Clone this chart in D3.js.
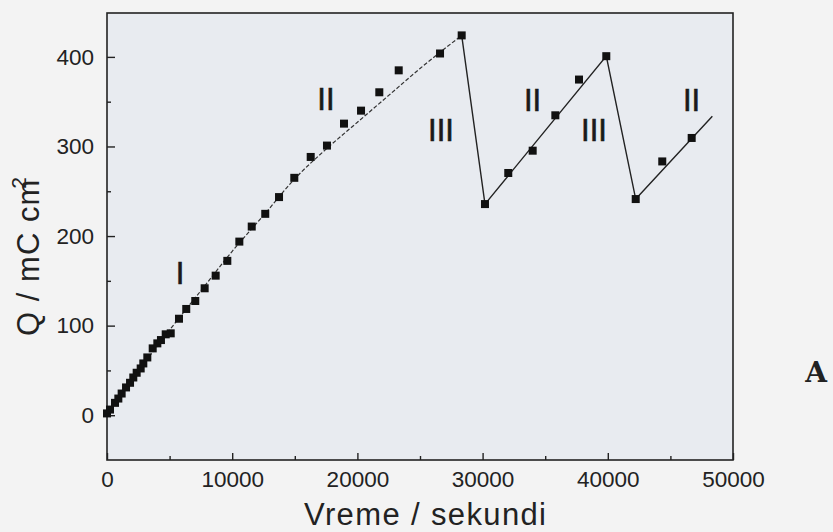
<!DOCTYPE html>
<html>
<head>
<meta charset="utf-8">
<script src="https://cdn.jsdelivr.net/npm/d3@7"></script>
<style>
  body { margin: 0; background: #f3f3f3; }
  svg { display: block; }
  text { font-family: "Liberation Sans", Arial, sans-serif; fill: #222; }
</style>
</head>
<body>
<script>
// measured points (time in s, charge in mC cm^-2)
var times = [0, 240, 640, 905, 1170, 1520, 1840, 2100, 2370, 2690, 2900, 3220, 3650, 4020, 4310, 4690, 5090,
             5750, 6330, 7050, 7800, 8680, 9610, 10570, 11560, 12640, 13740, 14960, 16270, 17570, 18930,
             20290, 21750, 23300, 26600, 28330, 30190, 32050, 34000, 35810, 37700, 39880, 42230, 44350, 46700];
var charge = [2, 6.3, 13.8, 18.6, 24.2, 31, 36.2, 42.1, 47.4, 52.2, 57.8, 64.5, 74.6, 80.2, 83.9, 90.3, 91.4,
              107.7, 118.6, 127.5, 141.7, 155.8, 172.3, 193.8, 210.6, 224.8, 243.5, 265, 288.3, 301, 325.5,
              340, 360.5, 385, 403.8, 424, 235.7, 270.4, 295.3, 334.8, 374.7, 400.8, 241.3, 283.3, 309.5];

// dashed fit curve (regions I-II)
var fitT = [0, 2500, 5000, 7500, 10000, 12500, 15000, 17500, 20000, 22500, 25000, 28330];
var fitQ = [0, 49, 95, 139, 183, 223, 264, 297, 327, 357, 387, 424];

// solid saw-tooth line
var sawT = [28330, 30190, 39880, 42230, 48350];
var sawQ = [424, 235.7, 400.8, 241.3, 333.7];

// region labels
var regionText = ["I", "II", "III", "II", "III", "II"];
var regionT = [5830, 17490, 26680, 33990, 38900, 46690];
var regionQ = [146.5, 341, 306.5, 340, 306.5, 340];

var xTicks = [0, 10000, 20000, 30000, 40000, 50000];
var xMinor = [5000, 15000, 25000, 35000, 45000];
var yTicks = [0, 100, 200, 300, 400];
var yMinor = [50, 150, 250, 350];

var width = 833, height = 532;
var margin = {top: 13, right: 100, bottom: 72, left: 107};

var svg = d3.select("body").append("svg")
    .attr("width", width)
    .attr("height", height);

var x = d3.scaleLinear().domain([0, 50000]).range([margin.left, width - margin.right]);
var y = d3.scaleLinear().domain([-50, 449]).range([height - margin.bottom, margin.top]);

// plot background
svg.append("rect")
    .attr("x", x(0)).attr("y", y(449))
    .attr("width", x(50000) - x(0)).attr("height", y(-50) - y(449))
    .attr("fill", "#e8ebf0");

// axes (ticks inside)
svg.append("g")
    .attr("transform", "translate(0," + y(-50) + ")")
    .call(d3.axisBottom(x).tickValues(xTicks).tickSize(-7).tickPadding(11).tickFormat(d3.format("d")));
svg.append("g")
    .attr("transform", "translate(0," + y(-50) + ")")
    .call(d3.axisBottom(x).tickValues(xMinor).tickSize(-4).tickFormat(""));
svg.append("g")
    .attr("transform", "translate(" + x(0) + ",0)")
    .call(d3.axisLeft(y).tickValues(yTicks).tickSize(-8).tickPadding(13));
svg.append("g")
    .attr("transform", "translate(" + x(0) + ",0)")
    .call(d3.axisLeft(y).tickValues(yMinor).tickSize(-4).tickFormat(""));

svg.selectAll(".domain").remove();
svg.selectAll(".tick line").attr("stroke", "#222").attr("stroke-width", 1.4);
svg.selectAll(".tick text")
    .style("font-family", "'Liberation Sans', Arial, sans-serif")
    .style("font-size", "22.5px")
    .attr("fill", "#1e1e1e");

// frame
svg.append("rect")
    .attr("x", x(0)).attr("y", y(449))
    .attr("width", x(50000) - x(0)).attr("height", y(-50) - y(449))
    .attr("fill", "none")
    .attr("stroke", "#222")
    .attr("stroke-width", 1.6);

// fit line
var fitData = fitT.map(function(t, i) { return [t, fitQ[i]]; });
svg.append("path")
    .datum(fitData)
    .attr("d", d3.line()
        .x(function(d) { return x(d[0]); })
        .y(function(d) { return y(d[1]); })
        .curve(d3.curveMonotoneX))
    .attr("fill", "none")
    .attr("stroke", "#333")
    .attr("stroke-width", 1.2)
    .attr("stroke-dasharray", "4,2");

// saw-tooth line
var sawData = sawT.map(function(t, i) { return [t, sawQ[i]]; });
svg.append("path")
    .datum(sawData)
    .attr("d", d3.line()
        .x(function(d) { return x(d[0]); })
        .y(function(d) { return y(d[1]); }))
    .attr("fill", "none")
    .attr("stroke", "#222")
    .attr("stroke-width", 1.4);

// square markers
var sq = 8;
svg.append("g")
    .selectAll("rect")
    .data(times.map(function(t, i) { return [t, charge[i]]; }))
    .enter()
    .append("rect")
    .attr("x", function(d) { return x(d[0]) - sq / 2; })
    .attr("y", function(d) { return y(d[1]) - sq / 2; })
    .attr("width", sq)
    .attr("height", sq)
    .attr("fill", "#111");

// region labels
svg.append("g")
    .selectAll("text")
    .data(regionText)
    .enter()
    .append("text")
    .attr("x", function(d, i) { return x(regionT[i]); })
    .attr("y", function(d, i) { return y(regionQ[i]); })
    .attr("text-anchor", "middle")
    .style("font-size", "31px")
    .style("fill", "#1a1a1a")
    .style("stroke", "#1a1a1a")
    .style("stroke-width", 0.6)
    .text(function(d) { return d; });

// axis titles
svg.append("text")
    .attr("x", (x(0) + x(50000)) / 2 + 5)
    .attr("y", 525)
    .attr("text-anchor", "middle")
    .attr("textLength", 242)
    .style("font-size", "31px")
    .text("Vreme / sekundi");

var yTitle = svg.append("text")
    .attr("transform", "translate(39," + 256 + ") rotate(-90)")
    .attr("text-anchor", "middle")
    .style("font-size", "31px")
    .style("letter-spacing", "1px");
yTitle.append("tspan").text("Q / mC cm");
yTitle.append("tspan")
    .attr("dx", -10)
    .attr("dy", -13)
    .style("font-size", "21px")
    .text("2");

// panel letter
svg.append("text")
    .attr("x", 816)
    .attr("y", 382)
    .attr("text-anchor", "middle")
    .style("font-family", "'DejaVu Serif', 'Liberation Serif', serif")
    .style("font-weight", "bold")
    .style("font-size", "28px")
    .text("A");
</script>
</body>
</html>
